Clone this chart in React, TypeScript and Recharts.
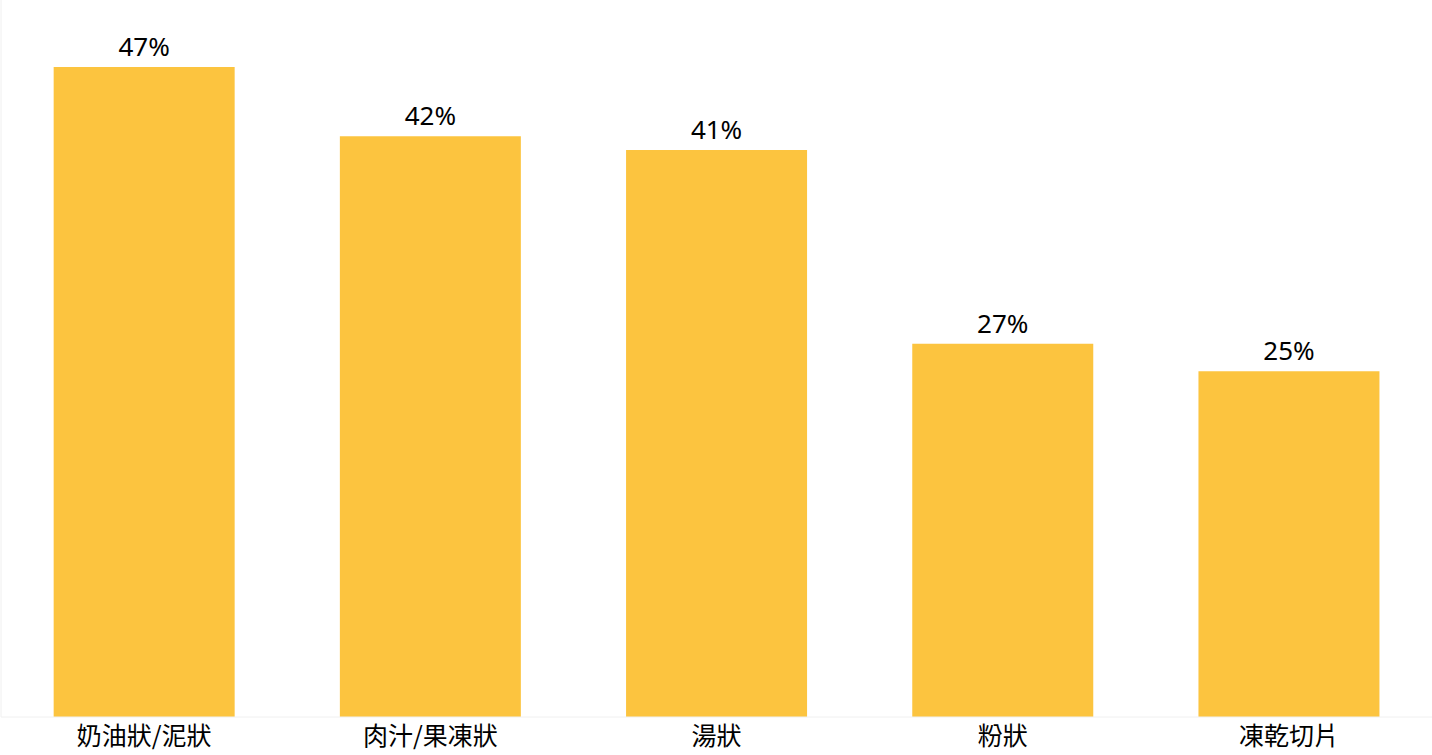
import React from 'react';
import { BarChart, Bar, XAxis, YAxis, LabelList } from 'recharts';

const categories = ['奶油狀/泥狀', '肉汁/果凍狀', '湯狀', '粉狀', '凍乾切片'];
const shares = [47, 42, 41, 27, 25];
const edgeTicks = [0, 1, 2, 3, 4, 5];

const data = categories.map((name, i) => ({ name, value: shares[i], pos: i + 0.5 }));

const BAR_COLOR = '#FCC43F';
const AXIS_COLOR = '#F0F0F0';

export default function App() {
  return (
    <div style={{ width: 1432, height: 755, background: '#fff' }}>
      <style>{'body{margin:0;}'}</style>
      <BarChart
        width={1432}
        height={755}
        data={data}
        margin={{ top: 0, right: 0, bottom: 0, left: 0 }}
        barCategoryGap="18.4%"
      >
        <XAxis
          xAxisId="edge"
          type="number"
          dataKey="pos"
          domain={[0, 5]}
          ticks={edgeTicks}
          height={0}
          axisLine={false}
          tick={false}
          tickSize={4}
          tickLine={{ stroke: AXIS_COLOR }}
        />
        <XAxis
          xAxisId="cat"
          dataKey="name"
          height={38}
          axisLine={{ stroke: AXIS_COLOR }}
          tickLine={false}
          tickSize={0}
          tickMargin={10}
          interval={0}
          tick={{ fill: '#000', fontSize: 25, fontFamily: '"Noto Sans CJK TC", sans-serif' }}
        />
        <YAxis
          width={1}
          domain={[0, 51.85]}
          tick={false}
          tickLine={false}
          axisLine={{ stroke: AXIS_COLOR }}
        />
        <Bar xAxisId="cat" dataKey="value" fill={BAR_COLOR} isAnimationActive={false}>
          <LabelList
            dataKey="value"
            position="top"
            offset={11}
            formatter={(v: any) => `${v}%`}
            style={{ fill: '#000', fontSize: 26, fontFamily: '"Noto Sans", sans-serif' }}
          />
        </Bar>
      </BarChart>
    </div>
  );
}
